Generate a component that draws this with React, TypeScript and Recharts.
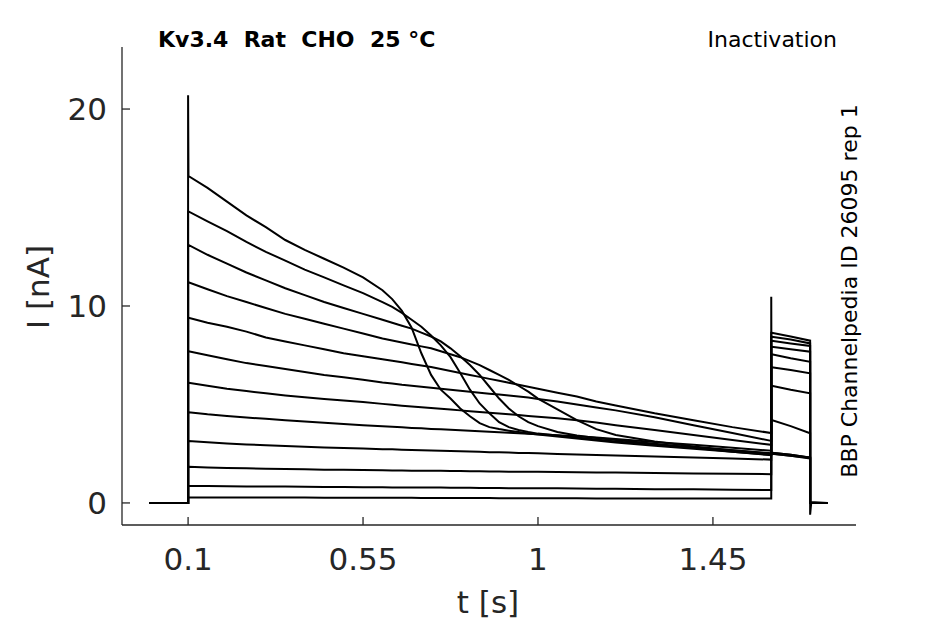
import { LineChart, Line, XAxis, YAxis } from 'recharts';

// time base [s]; repeated times draw the vertical steps of the protocol
const TIME = [
    0, 0.1, 0.1, 0.101,
    0.15, 0.2, 0.25, 0.3, 0.35, 0.4, 0.45, 0.5, 0.55, 0.6,
    0.625, 0.65, 0.675, 0.7, 0.725, 0.75, 0.775, 0.8, 0.825, 0.85, 0.875, 0.9, 0.925, 0.95, 0.975, 1.0,
    1.05, 1.1, 1.15, 1.2, 1.3, 1.4, 1.5, 1.6,
    1.6, 1.601, 1.65, 1.7, 1.7, 1.703, 1.745,
];

// current [nA], one array per sweep (top to bottom at pulse onset)
const TRACE_1 = [
    0, 0, 20.7, 16.6,
    16.0, 15.3, 14.6, 14.0, 13.35, 12.85, 12.4, 11.95, 11.45, 10.8,
    10.35, 9.75, 8.9, 7.6, 6.5, 5.75, 5.3, 4.8, 4.4, 4.05, 3.85, 3.75, 3.67, 3.6, 3.53, 3.47,
    3.37, 3.27, 3.17, 3.07, 2.9, 2.75, 2.6, 2.45,
    10.47, 2.5, 2.4, 2.3, 0, 0, 0,
];
const TRACE_2 = [
    0, 0, 14.8, 14.8,
    14.3, 13.8, 13.25, 12.75, 12.3, 11.85, 11.45, 11.05, 10.65, 10.2,
    9.95, 9.65, 9.3, 8.95, 8.5, 8.0, 7.4, 6.6, 5.75, 5.05, 4.55, 4.1, 3.85, 3.7, 3.6, 3.52,
    3.42, 3.32, 3.22, 3.12, 2.97, 2.82, 2.67, 2.52,
    2.55, 2.55, 2.45, 2.3, 0, 0, 0,
];
const TRACE_3 = [
    0, 0, 13.1, 13.1,
    12.6, 12.15, 11.7, 11.3, 10.9, 10.55, 10.2, 9.9, 9.6, 9.3,
    9.15, 9.0, 8.85, 8.65, 8.45, 8.2, 7.85, 7.45, 7.0, 6.5, 5.9, 5.3, 4.8, 4.4, 4.1, 3.9,
    3.6, 3.42, 3.3, 3.2, 3.0, 2.8, 2.6, 2.42,
    2.5, 2.5, 2.4, 2.25, 0, 0, 0,
];
const TRACE_4 = [
    0, 0, 11.2, 11.2,
    10.85, 10.5, 10.2, 9.9, 9.6, 9.35, 9.1, 8.85, 8.6, 8.35,
    8.25, 8.15, 8.05, 7.95, 7.85, 7.7, 7.55, 7.4, 7.2, 7.0, 6.75, 6.5, 6.25, 5.95, 5.65, 5.3,
    4.75, 4.2, 3.75, 3.45, 3.12, 2.87, 2.67, 2.5,
    2.55, 2.55, 2.45, 2.3, 0, 0, 0,
];
const TRACE_5 = [
    0, 0, 9.4, 9.4,
    9.15, 8.95, 8.7, 8.4, 8.2, 8.0, 7.8, 7.6, 7.45, 7.3,
    7.22, 7.14, 7.06, 6.98, 6.9, 6.8, 6.7, 6.6, 6.5, 6.4, 6.3, 6.2, 6.1, 6.0, 5.9, 5.8,
    5.6, 5.4, 5.15, 4.95, 4.55, 4.2, 3.85, 3.55,
    4.21, 4.21, 3.9, 3.54, 0, 0, 0,
];
const TRACE_6 = [
    0, 0, 7.7, 7.7,
    7.5, 7.3, 7.1, 6.95, 6.8, 6.65, 6.5, 6.38, 6.25, 6.12,
    6.07, 6.0, 5.95, 5.9, 5.85, 5.8, 5.75, 5.7, 5.65, 5.6, 5.55, 5.5, 5.45, 5.4, 5.35, 5.28,
    5.15, 5.0, 4.85, 4.7, 4.35, 3.95, 3.55, 3.15,
    5.95, 5.95, 5.75, 5.57, 0, 0, 0,
];
const TRACE_7 = [
    0, 0, 6.1, 6.1,
    5.95, 5.8, 5.68, 5.57, 5.46, 5.37, 5.28, 5.2, 5.12, 5.03,
    4.98, 4.94, 4.9, 4.86, 4.82, 4.78, 4.74, 4.7, 4.66, 4.62, 4.58, 4.54, 4.5, 4.46, 4.42, 4.38,
    4.3, 4.2, 4.08, 3.95, 3.7, 3.45, 3.2, 2.95,
    6.89, 6.89, 6.75, 6.58, 0, 0, 0,
];
const TRACE_8 = [
    0, 0, 4.6, 4.6,
    4.5, 4.42, 4.34, 4.27, 4.2, 4.13, 4.07, 4.01, 3.95, 3.89,
    3.87, 3.84, 3.81, 3.79, 3.76, 3.74, 3.71, 3.69, 3.66, 3.64, 3.61, 3.59, 3.56, 3.54, 3.51, 3.49,
    3.44, 3.38, 3.32, 3.25, 3.1, 2.95, 2.8, 2.65,
    7.55, 7.55, 7.35, 7.17, 0, 0, 0,
];
const TRACE_9 = [
    0, 0, 3.15, 3.15,
    3.08, 3.02, 2.97, 2.93, 2.89, 2.85, 2.82, 2.79, 2.76, 2.73,
    2.72, 2.7, 2.69, 2.68, 2.66, 2.65, 2.64, 2.62, 2.61, 2.6, 2.58, 2.57, 2.56, 2.54, 2.53, 2.52,
    2.49, 2.46, 2.44, 2.41, 2.36, 2.31, 2.26, 2.2,
    7.93, 7.93, 7.8, 7.68, 0, 0, 0,
];
const TRACE_10 = [
    0, 0, 1.84, 1.84,
    1.8, 1.78, 1.76, 1.74, 1.72, 1.71, 1.69, 1.68, 1.67, 1.66,
    1.65, 1.65, 1.64, 1.64, 1.63, 1.63, 1.62, 1.62, 1.61, 1.61, 1.6, 1.6, 1.59, 1.59, 1.58, 1.58,
    1.57, 1.56, 1.55, 1.54, 1.52, 1.5, 1.48, 1.46,
    8.24, 8.24, 8.1, 7.97, 0, 0, 0,
];
const TRACE_11 = [
    0, 0, 0.86, 0.86,
    0.86, 0.85, 0.84, 0.83, 0.83, 0.82, 0.81, 0.81, 0.8, 0.8,
    0.79, 0.79, 0.79, 0.78, 0.78, 0.78, 0.77, 0.77, 0.77, 0.76, 0.76, 0.76, 0.75, 0.75, 0.75, 0.74,
    0.74, 0.73, 0.72, 0.72, 0.7, 0.69, 0.67, 0.66,
    8.44, 8.44, 8.3, 8.1, 0, 0, 0,
];
const TRACE_12 = [
    0, 0, 0.27, 0.27,
    0.28, 0.28, 0.27, 0.27, 0.27, 0.27, 0.26, 0.26, 0.26, 0.26,
    0.26, 0.26, 0.26, 0.25, 0.25, 0.25, 0.25, 0.25, 0.25, 0.25, 0.25, 0.24, 0.24, 0.24, 0.24, 0.24,
    0.24, 0.24, 0.23, 0.23, 0.23, 0.22, 0.22, 0.22,
    8.64, 8.64, 8.45, 8.24, -0.6, 0.05, 0,
];

const TRACES = [
    TRACE_1, TRACE_2, TRACE_3, TRACE_4, TRACE_5, TRACE_6,
    TRACE_7, TRACE_8, TRACE_9, TRACE_10, TRACE_11, TRACE_12,
];

const X_TICKS = [0.1, 0.55, 1, 1.45];
const Y_TICKS = [0, 10, 20];

const TITLE = 'Kv3.4  Rat  CHO  25 °C';
const PROTOCOL = 'Inactivation';
const SOURCE = 'BBP Channelpedia ID 26095 rep 1';

const FONT = "'DejaVu Sans', sans-serif";
const INK = '#262626';

const rows = TIME.map((t, i) => {
    const row: Record<string, number> = { t };
    TRACES.forEach((tr, k) => {
        row[`s${k + 1}`] = tr[i];
    });
    return row;
});

export default function App() {
    return (
        <div style={{ position: 'absolute', left: 0, top: 0, width: 945, height: 624, background: '#fff', fontFamily: FONT }}>
            <LineChart
                width={945}
                height={624}
                data={rows}
                margin={{ top: 47, right: 89, bottom: 39, left: 62 }}
            >
                <XAxis
                    dataKey="t"
                    type="number"
                    domain={[-0.07, 1.818]}
                    ticks={X_TICKS}
                    interval={0}
                    allowDataOverflow
                    height={60}
                    tickSize={-8}
                    tickMargin={31}
                    axisLine={{ stroke: INK, strokeWidth: 1.3 }}
                    tickLine={{ stroke: INK, strokeWidth: 1.3 }}
                    tick={{ fill: INK, fontSize: 31, fontFamily: FONT }}
                />
                <YAxis
                    type="number"
                    domain={[-1.12, 23.15]}
                    ticks={Y_TICKS}
                    interval={0}
                    allowDataOverflow
                    width={60}
                    tickSize={-8}
                    tickMargin={23}
                    axisLine={{ stroke: INK, strokeWidth: 1.3 }}
                    tickLine={{ stroke: INK, strokeWidth: 1.3 }}
                    tick={{ fill: INK, fontSize: 31, fontFamily: FONT }}
                />
                {TRACES.map((_, k) => (
                    <Line
                        key={k}
                        dataKey={`s${k + 1}`}
                        type="linear"
                        stroke="#000"
                        strokeWidth={2}
                        dot={false}
                        activeDot={false}
                        isAnimationActive={false}
                    />
                ))}
            </LineChart>
            <svg
                width={945}
                height={624}
                style={{ position: 'absolute', left: 0, top: 0, pointerEvents: 'none' }}
            >
                <text x={158} y={47} fontSize={22} fontWeight="bold" fill="#000" fontFamily={FONT} style={{ whiteSpace: 'pre' }}>
                    {TITLE}
                </text>
                <text x={837} y={47} fontSize={22} fill="#000" fontFamily={FONT} textAnchor="end">
                    {PROTOCOL}
                </text>
                <text
                    x={857}
                    y={291}
                    fontSize={22}
                    fill="#000"
                    fontFamily={FONT}
                    textAnchor="middle"
                    transform="rotate(-90 857 291)"
                >
                    {SOURCE}
                </text>
                <text x={488} y={613} fontSize={31} fill={INK} fontFamily={FONT} textAnchor="middle">
                    t [s]
                </text>
                <text
                    x={49}
                    y={287}
                    fontSize={31}
                    fill={INK}
                    fontFamily={FONT}
                    textAnchor="middle"
                    transform="rotate(-90 49 287)"
                >
                    I [nA]
                </text>
            </svg>
        </div>
    );
}
